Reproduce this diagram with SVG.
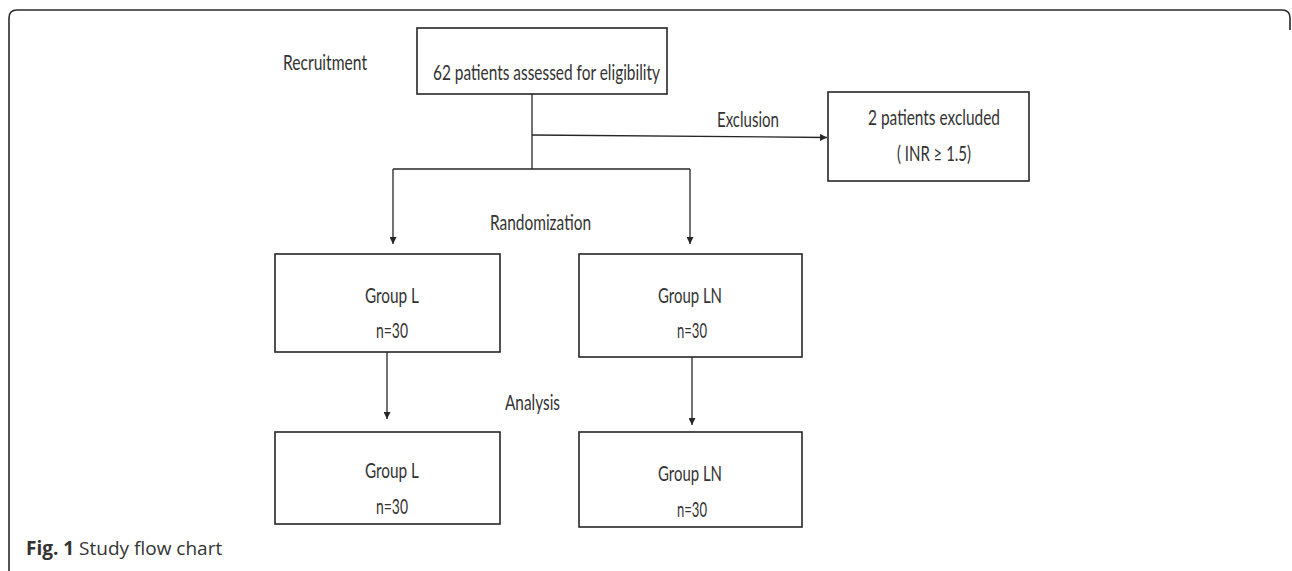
<svg xmlns="http://www.w3.org/2000/svg" width="1292" height="571" viewBox="0 0 1292 571">
<style>
.box{fill:#fff;stroke:#262626;stroke-width:1.6}
.ln{fill:none;stroke:#262626;stroke-width:1.3}
.t{font-family:Lato,"Open Sans",sans-serif;font-size:22px;fill:#333}
.cap{font-family:"Open Sans",sans-serif;font-size:19px;fill:#333}
</style>
<defs>
<marker id="ah" viewBox="0 0 10 10" refX="10" refY="5" markerWidth="7" markerHeight="7" markerUnits="userSpaceOnUse" orient="auto">
<path d="M0,0 L10,5 L0,10 z" fill="#262626"/>
</marker>
</defs>
<rect width="1292" height="571" fill="#fff"/>
<path d="M9,571 V18 Q9,10 17,10 H1282 Q1290,10 1290,18 V30" fill="none" stroke="#2a2a2a" stroke-width="1.6"/>

<g id="connectors">
<path class="ln" d="M532,94 V169"/>
<path class="ln" d="M532,135 L827,137.5" marker-end="url(#ah)"/>
<path class="ln" d="M393,169 H690"/>
<path class="ln" d="M393,169 V244" marker-end="url(#ah)"/>
<path class="ln" d="M690,169 V244" marker-end="url(#ah)"/>
<path class="ln" d="M387,352 V419" marker-end="url(#ah)"/>
<path class="ln" d="M692,357 V425" marker-end="url(#ah)"/>
</g>

<g id="label-recruitment"><text class="t" x="283" y="70" textLength="84" lengthAdjust="spacingAndGlyphs">Recruitment</text></g>
<g id="node-assessed">
<rect class="box" x="417" y="28" width="250" height="66"/>
<text class="t" x="433" y="80" textLength="227" lengthAdjust="spacingAndGlyphs">62 patients assessed for eligibility</text>
</g>
<g id="label-exclusion"><text class="t" x="717" y="127" textLength="62" lengthAdjust="spacingAndGlyphs">Exclusion</text></g>
<g id="node-excluded">
<rect class="box" x="828" y="92" width="201" height="89"/>
<text class="t" x="868" y="125" textLength="132" lengthAdjust="spacingAndGlyphs">2 patients excluded</text>
<text class="t" x="897" y="161" textLength="74" lengthAdjust="spacingAndGlyphs">( INR ≥ 1.5)</text>
</g>
<g id="label-randomization"><text class="t" x="490" y="230" textLength="101" lengthAdjust="spacingAndGlyphs">Randomization</text></g>
<g id="node-groupL-rand">
<rect class="box" x="275" y="254" width="225" height="98"/>
<text class="t" x="365" y="303" textLength="54" lengthAdjust="spacingAndGlyphs">Group L</text>
<text class="t" x="376" y="338" textLength="32" lengthAdjust="spacingAndGlyphs">n=30</text>
</g>
<g id="node-groupLN-rand">
<rect class="box" x="579" y="254" width="223" height="103"/>
<text class="t" x="658" y="303" textLength="64" lengthAdjust="spacingAndGlyphs">Group LN</text>
<text class="t" x="677" y="338" textLength="30" lengthAdjust="spacingAndGlyphs">n=30</text>
</g>
<g id="label-analysis"><text class="t" x="505" y="410" textLength="55" lengthAdjust="spacingAndGlyphs">Analysis</text></g>
<g id="node-groupL-analysis">
<rect class="box" x="275" y="432" width="225" height="92"/>
<text class="t" x="365" y="478" textLength="54" lengthAdjust="spacingAndGlyphs">Group L</text>
<text class="t" x="376" y="514" textLength="32" lengthAdjust="spacingAndGlyphs">n=30</text>
</g>
<g id="node-groupLN-analysis">
<rect class="box" x="579" y="432" width="223" height="95"/>
<text class="t" x="658" y="481" textLength="64" lengthAdjust="spacingAndGlyphs">Group LN</text>
<text class="t" x="677" y="517" textLength="30" lengthAdjust="spacingAndGlyphs">n=30</text>
</g>
<g id="caption">
<text class="cap" x="26" y="555"><tspan font-weight="bold">Fig. 1</tspan> Study flow chart</text>
</g>
</svg>
